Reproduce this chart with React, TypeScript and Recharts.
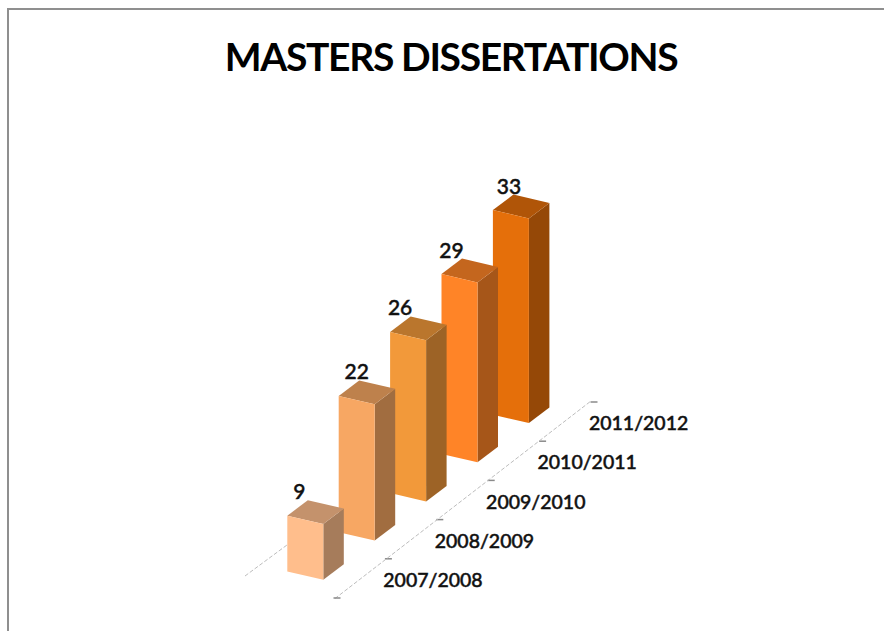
import React from "react";
import { BarChart, Bar, XAxis, YAxis, LabelList } from "recharts";

const categories = ["2007/2008", "2008/2009", "2009/2010", "2010/2011", "2011/2012"];
const dissertations = [9, 22, 26, 29, 33];
const barColors = ["#FFBE8C", "#F7A763", "#F2993A", "#FF8427", "#E56F0A"];
const titleText = "MASTERS DISSERTATIONS";

// Drawn back-to-front: the axis is reversed so the oldest year stays in front.
const table = categories
  .map((category, i) => ({ category, value: dissertations[i], color: barColors[i] }))
  .reverse();

const WIDTH = 884;
const HEIGHT = 631;
const AXIS_HEIGHT = 30;
const MARGIN = { top: 75.5, right: 347.7, bottom: 59.5 - AXIS_HEIGHT, left: 279.3 };
const PLOT_BOTTOM = HEIGHT - MARGIN.bottom - AXIS_HEIGHT;
const STEP_X = (WIDTH - MARGIN.left - MARGIN.right) / categories.length;
const DEPTH_DY = 39.2; // each later year sits this far up the floor
const SIDE_DX = 20.5;
const SIDE_DY = 15.5;
const SLANT = 8.3;
const FONT = "Lato, Carlito, sans-serif";
const labelNudge = [-6, 0, -8, -8, -2];

const depthOf = (category: string) => categories.indexOf(category);

function shade(hex: string, k: number) {
  const n = parseInt(hex.slice(1), 16);
  const c = [(n >> 16) & 255, (n >> 8) & 255, n & 255].map((v) => Math.round(v * k));
  return `rgb(${c[0]},${c[1]},${c[2]})`;
}

function pts(list: number[][]) {
  return list.map((p) => p.join(",")).join(" ");
}

function Box3D(props: any) {
  const { x, y, width, height, payload } = props;
  const d = depthOf(payload.category);
  const top = y - d * DEPTH_DY;
  const bottom = top + height;
  const r = x + width;
  return (
    <g>
      <polygon
        fill={shade(payload.color, 0.65)}
        points={pts([
          [r, top + SLANT],
          [r + SIDE_DX, top + SLANT - SIDE_DY],
          [r + SIDE_DX, bottom + SLANT - SIDE_DY],
          [r, bottom + SLANT],
        ])}
      />
      <polygon
        fill={shade(payload.color, 0.77)}
        points={pts([
          [x, top],
          [x + SIDE_DX, top - SIDE_DY],
          [r + SIDE_DX, top + SLANT - SIDE_DY],
          [r, top + SLANT],
        ])}
      />
      <polygon
        fill={payload.color}
        points={pts([
          [x, top],
          [r, top + SLANT],
          [r, bottom + SLANT],
          [x, bottom],
        ])}
      />
    </g>
  );
}

function FloorTick(props: any) {
  const { x, payload } = props;
  const d = depthOf(payload.value);
  const n = categories.length;
  const axisY = PLOT_BOTTOM - d * DEPTH_DY;
  const dash = (k: number) => {
    const dx = x + 32 + (k - d) * STEP_X;
    const dy = PLOT_BOTTOM + 26.5 - k * DEPTH_DY;
    return <line key={k} x1={dx - 3.5} x2={dx + 3.5} y1={dy} y2={dy} stroke="#8a8a8a" strokeWidth={1.5} />;
  };
  return (
    <g>
      {d === 0 && (
        <>
          <line
            x1={x + 30}
            y1={PLOT_BOTTOM + 27}
            x2={x + 32 + n * STEP_X - 3}
            y2={PLOT_BOTTOM + 26.5 - n * DEPTH_DY - 1}
            stroke="#bdbdbd"
            strokeWidth={1}
            strokeDasharray="4 2"
          />
          <line
            x1={x - 60}
            y1={PLOT_BOTTOM + 4.5}
            x2={x - 18}
            y2={PLOT_BOTTOM - 26.5}
            stroke="#bdbdbd"
            strokeWidth={1}
            strokeDasharray="4 2"
          />
        </>
      )}
      {dash(d)}
      {d === n - 1 && dash(n)}
      <text
        x={x + 128}
        y={axisY + 8}
        textAnchor="middle"
        dominantBaseline="central"
        fontFamily={FONT}
        fontSize={19.5}
        fontWeight={500}
        fill="#111"
        stroke="#111"
        strokeWidth={0.45}
      >
        {payload.value}
      </text>
    </g>
  );
}

function TopLabel(props: any) {
  const { x, y, value, index, width } = props;
  const d = categories.length - 1 - index;
  return (
    <text
      x={x + width / 2 + labelNudge[d]}
      y={y - d * DEPTH_DY - 25}
      textAnchor="middle"
      dominantBaseline="central"
      fontFamily={FONT}
      fontSize={21}
      fontWeight={500}
      fill="#111"
      stroke="#111"
      strokeWidth={0.45}
    >
      {value}
    </text>
  );
}

export default function App() {
  return (
    <div style={{ position: "absolute", left: 0, top: 0, width: WIDTH, height: HEIGHT, background: "#fff", overflow: "hidden" }}>
      <div
        style={{
          position: "absolute",
          left: 7,
          top: 8,
          right: 0,
          bottom: 0,
          borderLeft: "2.5px solid #8f8f8f",
          borderTop: "2.5px solid #8f8f8f",
        }}
      />
      <div
        style={{
          position: "absolute",
          left: 0,
          width: 902,
          top: 33,
          textAlign: "center",
          fontFamily: FONT,
          fontSize: 39,
          fontWeight: 700,
          letterSpacing: -1.35,
          lineHeight: "46px",
          color: "#000",
          whiteSpace: "nowrap",
        }}
      >
        {titleText}
      </div>
      <div style={{ position: "absolute", left: 0, top: 0 }}>
        <BarChart width={WIDTH} height={HEIGHT} data={table} margin={MARGIN}>
          <XAxis
            dataKey="category"
            reversed
            interval={0}
            height={AXIS_HEIGHT}
            axisLine={false}
            tickLine={false}
            tickSize={0}
            tick={FloorTick}
          />
          <YAxis hide domain={[0, 80]} />
          <Bar dataKey="value" barSize={36} isAnimationActive={false} shape={Box3D}>
            <LabelList dataKey="value" content={TopLabel} />
          </Bar>
        </BarChart>
      </div>
    </div>
  );
}
